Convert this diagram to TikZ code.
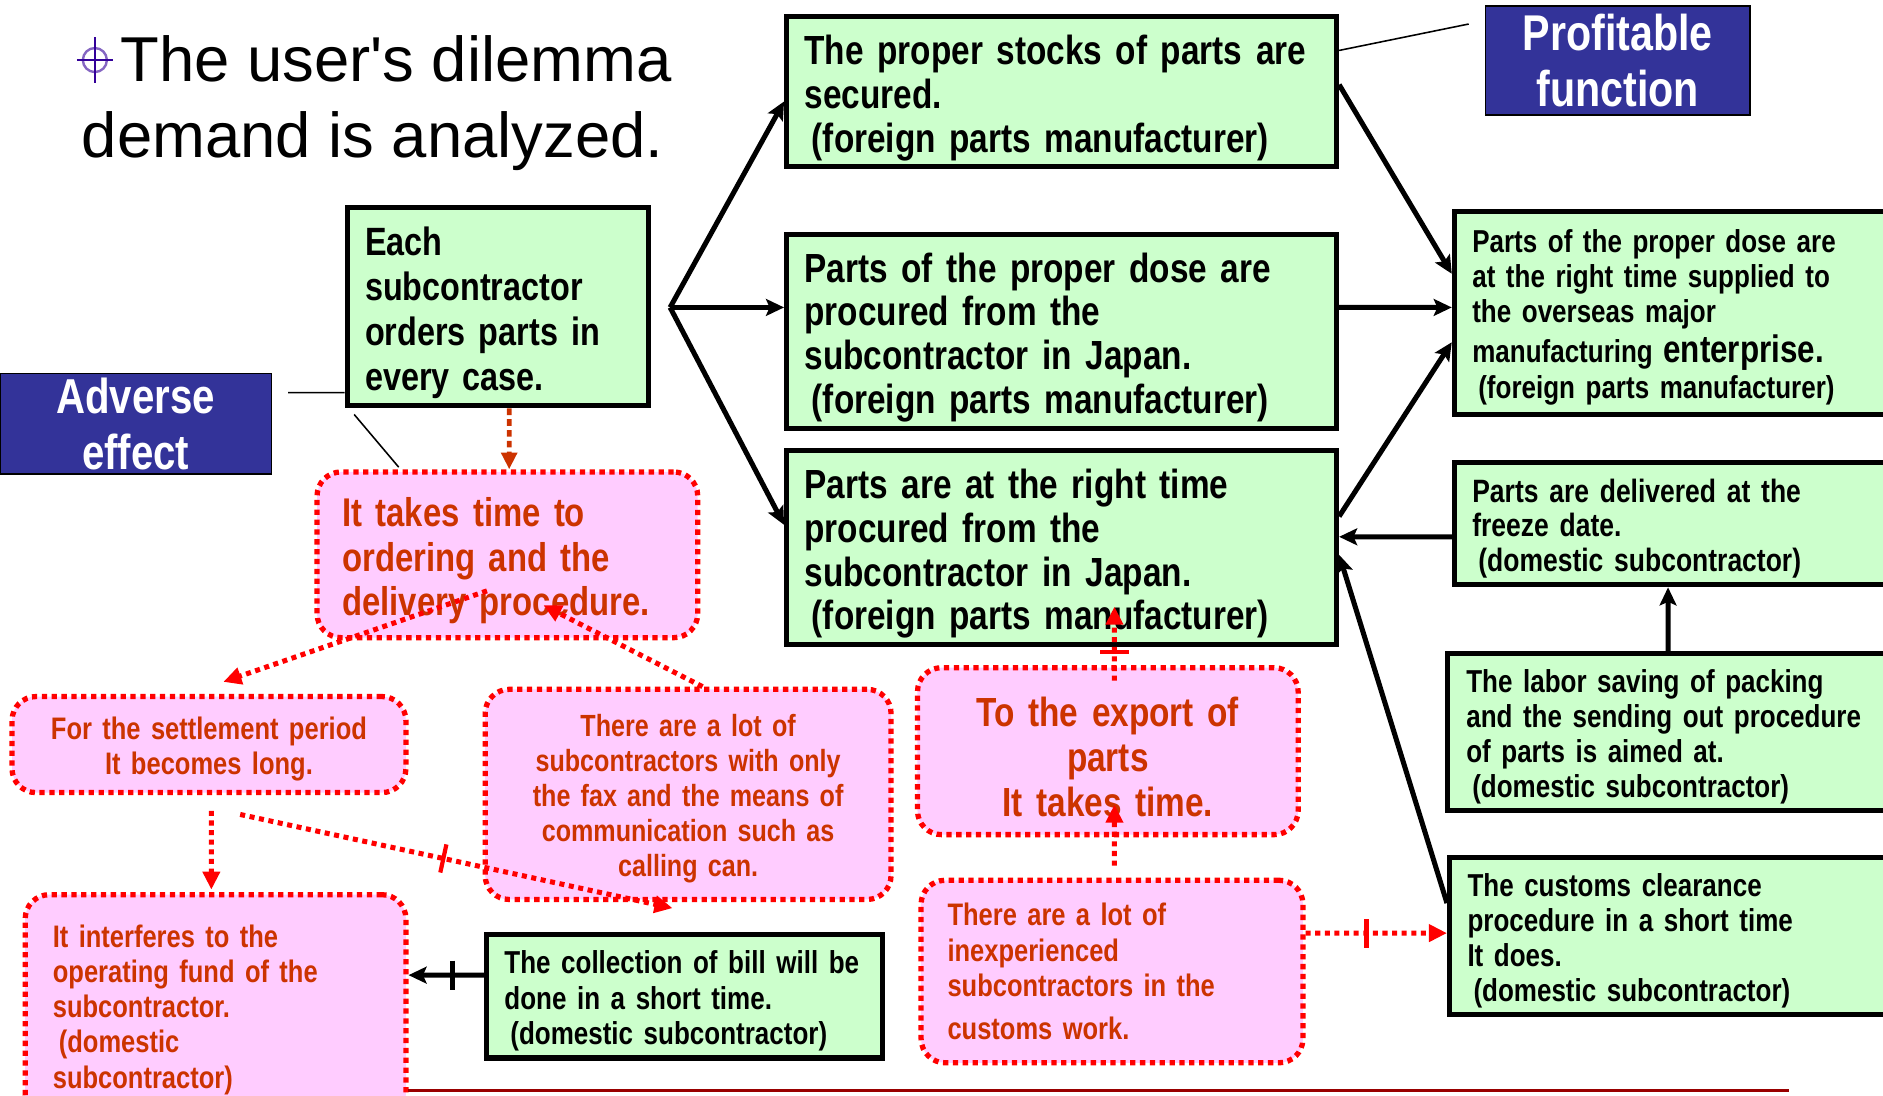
\documentclass[tikz,border=0pt]{standalone}
\usepackage{fontspec}
\setmainfont{Liberation Sans}
\newfontfamily\headfont{Liberation Sans}[Ligatures=TeXOff]
\newfontfamily\condb{Liberation Sans Bold}[FakeStretch=0.82]
\usetikzlibrary{arrows.meta,decorations.markings}
\definecolor{grn}{HTML}{CCFFCC}
\definecolor{pnk}{HTML}{FFCCFF}
\definecolor{txtred}{HTML}{CC3300}
\definecolor{navy}{HTML}{333399}
\definecolor{darkline}{HTML}{990000}
\definecolor{symcol}{HTML}{330099}
\newcommand\fs[2]{\fontsize{#1}{#2}\selectfont}

\tikzset{
  lowtext/.style={execute at begin node={\rule{0pt}{#1}}},
  lowtext/.default=1.02em,
  gbox/.style={draw=black, line width=4.2bp, fill=grn, inner xsep=15bp, inner ysep=2bp,
    align=left, text=black, lowtext},
  pbox/.style={draw=red, line width=4.4bp, dash pattern=on 4.4bp off 3.8bp, fill=pnk,
    rounded corners=20bp, text=txtred, inner xsep=20bp, inner ysep=2bp},
  bbox/.style={draw=black, line width=1.5bp, fill=navy, text=white, align=center, inner sep=0pt,
    lowtext=0.95em},
  blk/.style={draw=black, line width=4.2bp, -{Stealth[length=15bp,width=14bp,inset=3bp]}},
  rdot/.style={draw=red, line width=4.2bp, dash pattern=on 4.2bp off 3.8bp,
    -{Triangle[length=15bp,width=14bp]}, red},
  odash/.style={draw=txtred, line width=4bp, dash pattern=on 5.5bp off 3.5bp,
    -{Triangle[length=14bp,width=13bp]}, txtred},
  thinline/.style={draw=black, line width=1.3bp},
  rbar/.style={postaction=decorate, decoration={markings, mark=at position #1 with
    {\draw[solid,-,red,line width=3.5bp] (0,-12bp) -- (0,12bp);}}},
  kbar/.style={postaction=decorate, decoration={markings, mark=at position #1 with
    {\draw[solid,-,black,line width=4.2bp] (0,-12bp) -- (0,12bp);}}},
}

\begin{document}
\begin{tikzpicture}[x=1bp,y=-1bp]
\useasboundingbox (0,0) rectangle (1568,912);

% heading
\node[circle, draw=symcol!60, line width=2bp, minimum size=20bp, inner sep=0pt] (sym) at (79,50) {};
\draw[symcol, line width=2bp] ([xshift=-15bp]sym.center) -- ([xshift=15bp]sym.center);
\draw[symcol, line width=2bp] ([yshift=19bp]sym.center) -- ([yshift=-19bp]sym.center);
\node[anchor=base west, inner sep=0pt, font=\headfont\fs{53}{60}] (title1) at (100,68) {The user's dilemma};
\node[anchor=base west, inner sep=0pt, font=\headfont\fs{53}{60}] (title2) at (68,131) {demand is analyzed.};

% labels on blue
\node[bbox, minimum width=226bp, minimum height=84bp, font=\condb\fs{41}{47}] (adv) at (113,353)
  {Adverse\\effect};
\node[bbox, minimum width=220bp, minimum height=91bp, font=\condb\fs{42}{47}] (prof) at (1347,50.5)
  {Profitable\\function};

% green boxes
\node[gbox, minimum width=251bp, minimum height=165bp, text width=221bp, font=\condb\fs{33}{37.7}]
  (each) at (414.5,255.5) {Each\\subcontractor\\orders parts in\\every case.};
\node[gbox, minimum width=458bp, minimum height=125bp, text width=428bp, font=\condb\fs{34}{37}]
  (A) at (884,76.5) {The proper stocks of parts are\\secured.\\\hspace*{6bp}(foreign parts manufacturer)};
\node[gbox, minimum width=458bp, minimum height=162bp, text width=428bp, font=\condb\fs{34}{36.7}]
  (B) at (884,276) {Parts of the proper dose are\\procured from the\\subcontractor in Japan.\\\hspace*{6bp}(foreign parts manufacturer)};
\node[gbox, minimum width=458bp, minimum height=162bp, text width=428bp, font=\condb\fs{34}{36.7}]
  (C) at (884,456) {Parts are at the right time\\procured from the\\subcontractor in Japan.\\\hspace*{6bp}(foreign parts manufacturer)};
\node[gbox, minimum width=380bp, minimum height=169bp, text width=350bp, font=\condb\fs{26.5}{29}]
  (D) at (1401,260.5) {Parts of the proper dose are\\at the right time supplied to\\the overseas major\\[5bp]manufacturing {\fs{32}{35}enterprise.}\\[1bp]\hspace*{5bp}(foreign parts manufacturer)};
\node[gbox, minimum width=380bp, minimum height=102bp, text width=350bp, font=\condb\fs{27}{29}]
  (E) at (1401,436) {Parts are delivered at the\\freeze date.\\\hspace*{5bp}(domestic subcontractor)};
\node[gbox, minimum width=380bp, minimum height=131bp, inner xsep=16bp, text width=348bp, font=\condb\fs{26.5}{29.3}]
  (F) at (1395,609.5) {The labor saving of packing\\and the sending out procedure\\of parts is aimed at.\\\hspace*{5bp}(domestic subcontractor)};
\node[gbox, minimum width=380bp, minimum height=131bp, text width=350bp, font=\condb\fs{26.5}{29.3}]
  (G) at (1397,779.5) {The customs clearance\\procedure in a short time\\It does.\\\hspace*{5bp}(domestic subcontractor)};
\node[gbox, minimum width=330bp, minimum height=103bp, text width=300bp, font=\condb\fs{26.5}{29.5}]
  (H) at (570,829.5) {The collection of bill will be\\done in a short time.\\\hspace*{5bp}(domestic subcontractor)};

% pink boxes
\node[pbox, lowtext, minimum width=317bp, minimum height=138bp, inner xsep=21bp, text width=275bp, align=left, font=\condb\fs{33.5}{37}]
  (P1) at (422.5,462) {It takes time to\\ordering and the\\delivery procedure.};
\node[pbox, lowtext, minimum width=328bp, minimum height=80bp, inner xsep=14bp, text width=300bp, align=center, font=\condb\fs{26}{29}]
  (P2) at (174,620) {For the settlement period\\It becomes long.};
\node[pbox, lowtext, minimum width=338bp, minimum height=175bp, inner xsep=14bp, text width=310bp, align=center, font=\condb\fs{25.6}{29.25}]
  (P3) at (573,661.5) {There are a lot of\\subcontractors with only\\the fax and the means of\\communication such as\\calling can.};
\node[pbox, lowtext, minimum width=317bp, minimum height=139bp, inner xsep=13bp, text width=291bp, align=center, font=\condb\fs{34}{37.5}]
  (P4) at (922.5,625.5) {To the export of\\parts\\It takes time.};
\node[pbox, minimum width=318bp, minimum height=152bp, inner xsep=22bp, text width=274bp, align=left, font=\condb\fs{26}{29.5}]
  (P5) at (926,809) {There are a lot of\\inexperienced\\subcontractors in the\\[6.5bp]customs work.};
\node[pbox, lowtext=0.95em, minimum width=317bp, minimum height=186bp, inner xsep=23bp, text width=271bp, align=left, font=\condb\fs{26}{29.3}]
  (P6) at (179.5,838) {It interferes to the\\operating fund of the\\subcontractor.\\\hspace*{5bp}(domestic\\subcontractor)};

% thin leader lines of the blue labels
\coordinate (advend) at (240,327);
\coordinate (advdiag) at (332,389);
\coordinate (profend) at (1223,20);
\draw[thinline] (advend) -- ([yshift=-71.5bp]each.west);
\draw[thinline] ([xshift=8bp,yshift=-5bp]each.south west) -- (advdiag);
\draw[thinline] ([yshift=34.5bp]A.east) -- (profend);

% black connectors
\coordinate (br) at (558,256);
\draw[blk] (br) -- ([yshift=-8bp]A.west);
\draw[blk] (br) -- (br -| B.west);
\draw[blk] (br) -- ([yshift=19bp]C.west);
\draw[blk] ([yshift=6bp]A.east) -- ([yshift=32.5bp]D.west);
\draw[blk] ([yshift=20bp]B.east) -- ([yshift=4.5bp]D.west);
\draw[blk] ([yshift=26bp]C.east) -- ([yshift=-24.5bp]D.west);
\draw[blk] ([yshift=-11bp]E.west) -- ([yshift=9bp]C.east);
\draw[blk] ([xshift=-6bp]F.north) -- ([xshift=-12bp]E.south);
\draw[blk] ([yshift=27.5bp]G.west) -- ([yshift=-6bp]C.east);
\draw[blk, kbar=0.42] ([yshift=17.5bp]H.west) -- ([yshift=26bp]P6.east);

% red connectors
\draw[odash] ([xshift=9.5bp]each.south) -- ([xshift=1.5bp]P1.north);
\draw[rdot] ([xshift=-17bp,yshift=-30bp]P1.center) -- ([xshift=12bp,yshift=10bp]P2.north);
\draw[rdot] ([xshift=12bp]P3.north) -- ([xshift=30bp,yshift=-42bp]P1.center);
\draw[rdot] ([xshift=2bp,yshift=-13bp]P2.south) -- ([xshift=-3.5bp,yshift=2bp]P6.north);
\draw[rdot, rbar=0.47] ([xshift=26bp,yshift=-16bp]P2.south) -- ([xshift=-13bp,yshift=-5bp]P3.south);
\draw[rdot, rbar=0.39] ([xshift=5.5bp,yshift=-13bp]P4.north) -- ([xshift=44bp,yshift=34bp]C.south);
\draw[rdot] ([xshift=2bp,yshift=10bp]P5.north) -- ([xshift=5.5bp,yshift=-44.5bp]P4.center);
\draw[rdot, rbar=0.43] ([yshift=32bp]P5.east) -- ([yshift=2.5bp]G.west);

% rule along the foot
\coordinate (footl) at (340,908);
\coordinate (footr) at (1490,908);
\draw[darkline, line width=2.2bp] (footl) -- (footr);
\end{tikzpicture}
\end{document}
